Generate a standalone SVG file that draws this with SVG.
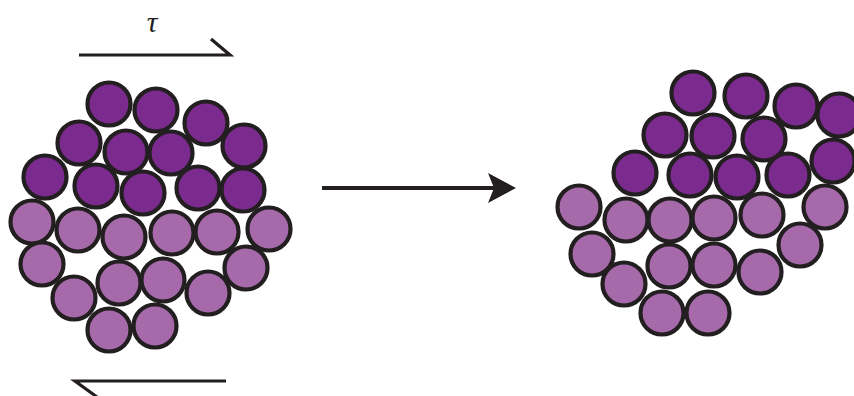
<svg xmlns="http://www.w3.org/2000/svg" width="854" height="396" viewBox="0 0 854 396">
  <style>
    .dk { fill: #7b2a8e; stroke: #231f20; stroke-width: 4.2; }
    .lt { fill: #a66aab; stroke: #231f20; stroke-width: 4.2; }
    .shear { fill: none; stroke: #231f20; stroke-width: 3.2; stroke-linecap: butt; stroke-linejoin: miter; }
    .tau { font-family: "Liberation Serif", "DejaVu Serif", serif; font-style: italic; font-size: 30px; fill: #231f20; }
  </style>
  <defs>
    <circle id="p" r="21.5"/>
  </defs>

  <!-- shear stress label and half-arrows -->
  <g id="shear-top">
    <text class="tau" x="152" y="32" text-anchor="middle">τ</text>
    <path class="shear" d="M79,55 H230 L211,39"/>
  </g>
  <g id="shear-bottom">
    <path class="shear" d="M226,381 H75 L97,397"/>
  </g>

  <!-- packing before shear -->
  <g id="packing-before">
    <g class="dk">
      <use href="#p" x="109" y="104"/>
      <use href="#p" x="156" y="110"/>
      <use href="#p" x="206" y="123"/>
      <use href="#p" x="244" y="146"/>
      <use href="#p" x="79" y="143"/>
      <use href="#p" x="126" y="152"/>
      <use href="#p" x="171" y="153"/>
      <use href="#p" x="45" y="177"/>
      <use href="#p" x="96" y="186"/>
      <use href="#p" x="143" y="193"/>
      <use href="#p" x="198" y="188"/>
      <use href="#p" x="243" y="190"/>
    </g>
    <g class="lt">
      <use href="#p" x="32" y="222"/>
      <use href="#p" x="78" y="230"/>
      <use href="#p" x="124" y="237"/>
      <use href="#p" x="172" y="233"/>
      <use href="#p" x="217" y="232"/>
      <use href="#p" x="269" y="229"/>
      <use href="#p" x="42" y="264"/>
      <use href="#p" x="246" y="268"/>
      <use href="#p" x="119" y="283"/>
      <use href="#p" x="163" y="280"/>
      <use href="#p" x="208" y="293"/>
      <use href="#p" x="74" y="298"/>
      <use href="#p" x="109" y="330"/>
      <use href="#p" x="155" y="326"/>
    </g>
  </g>

  <!-- transition arrow -->
  <g id="connectors">
    <line x1="322" y1="188" x2="495" y2="188" stroke="#231f20" stroke-width="4"/>
    <path d="M516,188 L488,173 L494,188 L488,203 Z" fill="#231f20"/>
  </g>

  <!-- packing after shear -->
  <g id="packing-after">
    <g class="dk">
      <use href="#p" x="693" y="93"/>
      <use href="#p" x="746" y="96"/>
      <use href="#p" x="796" y="106"/>
      <use href="#p" x="839" y="115"/>
      <use href="#p" x="665" y="135"/>
      <use href="#p" x="713" y="136"/>
      <use href="#p" x="764" y="139"/>
      <use href="#p" x="635" y="173"/>
      <use href="#p" x="690" y="175"/>
      <use href="#p" x="737" y="177"/>
      <use href="#p" x="788" y="175"/>
      <use href="#p" x="833" y="161"/>
    </g>
    <g class="lt">
      <use href="#p" x="579" y="207"/>
      <use href="#p" x="626" y="220"/>
      <use href="#p" x="670" y="220"/>
      <use href="#p" x="714" y="218"/>
      <use href="#p" x="762" y="215"/>
      <use href="#p" x="825" y="207"/>
      <use href="#p" x="592" y="254"/>
      <use href="#p" x="800" y="245"/>
      <use href="#p" x="669" y="266"/>
      <use href="#p" x="714" y="265"/>
      <use href="#p" x="760" y="272"/>
      <use href="#p" x="624" y="284"/>
      <use href="#p" x="662" y="313"/>
      <use href="#p" x="708" y="313"/>
    </g>
  </g>
</svg>
